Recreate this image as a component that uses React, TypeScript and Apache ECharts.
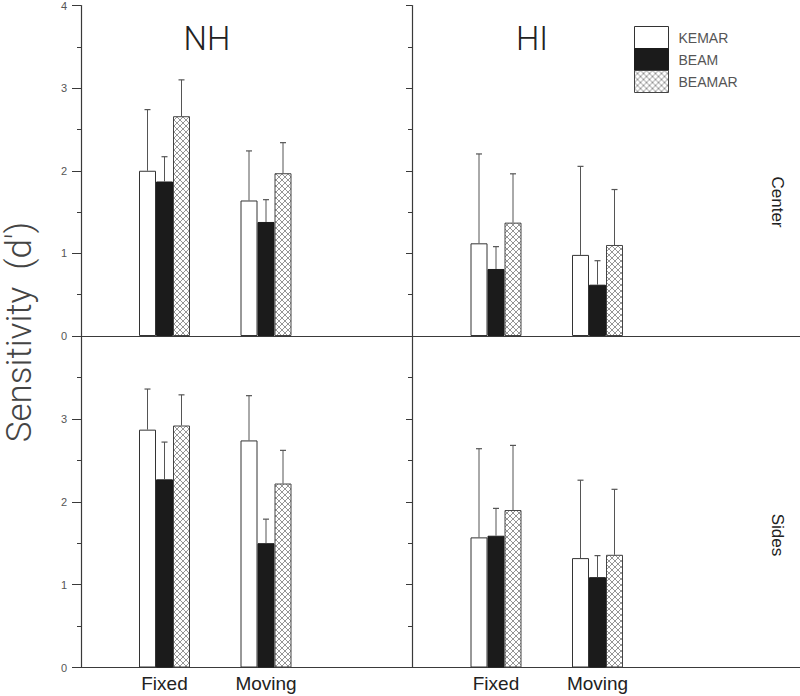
import React, { useEffect, useRef } from "react";
import * as echarts from "echarts";

const conditions = ["Fixed", "Moving"];
const methods = ["KEMAR", "BEAM", "BEAMAR"];
const yTicks = [0, 1, 2, 3, 4];

// means per method, per condition [Fixed, Moving]
const nhCenterMean = { KEMAR: [2.0, 1.64], BEAM: [1.87, 1.38], BEAMAR: [2.66, 1.97] };
const nhCenterUpper = { KEMAR: [2.74, 2.24], BEAM: [2.17, 1.65], BEAMAR: [3.1, 2.34] };
const hiCenterMean = { KEMAR: [1.12, 0.98], BEAM: [0.81, 0.62], BEAMAR: [1.37, 1.1] };
const hiCenterUpper = { KEMAR: [2.2, 2.05], BEAM: [1.08, 0.91], BEAMAR: [1.96, 1.77] };
const nhSidesMean = { KEMAR: [2.87, 2.74], BEAM: [2.27, 1.5], BEAMAR: [2.92, 2.22] };
const nhSidesUpper = { KEMAR: [3.36, 3.28], BEAM: [2.72, 1.79], BEAMAR: [3.29, 2.62] };
const hiSidesMean = { KEMAR: [1.57, 1.32], BEAM: [1.59, 1.09], BEAMAR: [1.9, 1.36] };
const hiSidesUpper = { KEMAR: [2.64, 2.26], BEAM: [1.92, 1.35], BEAMAR: [2.68, 2.15] };

const panels = [
  { mean: nhCenterMean, upper: nhCenterUpper, col: 0, row: 0 },
  { mean: hiCenterMean, upper: hiCenterUpper, col: 1, row: 0 },
  { mean: nhSidesMean, upper: nhSidesUpper, col: 0, row: 1 },
  { mean: hiSidesMean, upper: hiSidesUpper, col: 1, row: 1 },
];

function makeHatch() {
  const c = document.createElement("canvas");
  c.width = 6;
  c.height = 6;
  const ctx = c.getContext("2d")!;
  ctx.fillStyle = "#ffffff";
  ctx.fillRect(0, 0, 6, 6);
  ctx.strokeStyle = "#7a7a7a";
  ctx.lineWidth = 0.8;
  ctx.beginPath();
  ctx.moveTo(0, 0);
  ctx.lineTo(6, 6);
  ctx.moveTo(6, 0);
  ctx.lineTo(0, 6);
  ctx.stroke();
  return c;
}

export default function App() {
  const ref = useRef<HTMLDivElement>(null);
  useEffect(() => {
    const chart = echarts.init(ref.current!, null, { renderer: "svg" });
    const hatch = { image: makeHatch(), repeat: "repeat", imageWidth: 6, imageHeight: 6 } as any;
    const fills: any = {
      KEMAR: { color: "#ffffff", borderColor: "#333", borderWidth: 1 },
      BEAM: { color: "#1b1b1b", borderColor: "#1b1b1b", borderWidth: 1 },
      BEAMAR: { color: hatch, borderColor: "#444", borderWidth: 1 },
    };

    const axisX = 81;
    const midX = 412;
    const rowTop = [5, 336];
    const rowH = [331, 331.5];
    const band = 101.5;
    const firstCenter = [164.5, 496];
    const axisColor = "#3a3a3a";

    const grid: any[] = [];
    const xAxis: any[] = [];
    const yAxis: any[] = [];
    const series: any[] = [];
    const font = "'Liberation Sans', Arial, sans-serif";
    const lightFont = "Roboto, 'Liberation Sans', sans-serif";

    panels.forEach((p, i) => {
      const left = firstCenter[p.col] - band / 2;
      grid.push({ left, width: band * 2, top: rowTop[p.row], height: rowH[p.row] });
      xAxis.push({
        type: "category",
        gridIndex: i,
        data: conditions,
        axisLine: { show: false },
        axisTick: { show: false },
        axisLabel: {
          show: p.row === 1,
          fontSize: 19,
          color: "#222",
          margin: 6,
          fontFamily: font,
        },
      });
      const yBase: any = {
        type: "value",
        gridIndex: i,
        min: 0,
        max: 4,
        interval: 1,
        splitLine: { show: false },
      };
      if (p.col === 0) {
        yAxis.push({
          ...yBase,
          position: "left",
          offset: left - axisX,
          axisLine: { show: true, lineStyle: { color: axisColor, width: 1.2 } },
          axisTick: { show: true, length: 9, lineStyle: { color: axisColor } },
          minorTick: { show: true, splitNumber: 2, length: 4, lineStyle: { color: axisColor } },
          axisLabel: {
            show: true,
            margin: 14,
            fontSize: 11,
            color: "#555",
            fontFamily: font,
            formatter: (v: number) => (p.row === 1 && v === 4 ? "" : String(yTicks[v])),
          },
        });
        yAxis.push({
          ...yBase,
          position: "right",
          offset: midX - (left + band * 2),
          axisLine: { show: true, lineStyle: { color: axisColor, width: 1.2 } },
          axisTick: { show: true, inside: true, length: 6, lineStyle: { color: axisColor } },
          minorTick: { show: true, splitNumber: 2, length: 4, lineStyle: { color: axisColor } },
          axisLabel: { show: false },
        });
      } else {
        yAxis.push({ ...yBase, show: false });
      }
    });

    const yIndexOf: number[] = [];
    let yi = 0;
    panels.forEach((p) => {
      yIndexOf.push(yi);
      yi += p.col === 0 ? 2 : 1;
    });

    panels.forEach((p, i) => {
      methods.forEach((m) => {
        series.push({
          type: "bar",
          name: m,
          xAxisIndex: i,
          yAxisIndex: yIndexOf[i],
          barWidth: 17,
          barGap: "0%",
          data: (p.mean as any)[m],
          itemStyle: fills[m],
          silent: true,
        });
      });
      const errData: any[] = [];
      methods.forEach((m, si) => {
        conditions.forEach((_, ci) => {
          errData.push([ci, si, (p.mean as any)[m][ci], (p.upper as any)[m][ci]]);
        });
      });
      series.push({
        type: "custom",
        xAxisIndex: i,
        yAxisIndex: yIndexOf[i],
        z: 5,
        silent: true,
        data: errData,
        renderItem: (params: any, api: any) => {
          const ci = api.value(0);
          const si = api.value(1);
          const p0 = api.coord([ci, api.value(2)]);
          const p1 = api.coord([ci, api.value(3)]);
          const x = p0[0] + (si - 1) * 17;
          return {
            type: "group",
            children: [
              {
                type: "line",
                shape: { x1: x, y1: p0[1], x2: x, y2: p1[1] },
                style: { stroke: "#555", lineWidth: 1 },
              },
              {
                type: "line",
                shape: { x1: x - 3, y1: p1[1], x2: x + 3, y2: p1[1] },
                style: { stroke: "#555", lineWidth: 1.2 },
              },
            ],
          };
        },
      });
    });

    // frame rows (horizontal baselines across full width)
    [0, 1].forEach((r) => {
      const gi = grid.length;
      grid.push({ left: axisX, right: 0, top: rowTop[r], height: rowH[r] });
      xAxis.push({
        type: "value",
        gridIndex: gi,
        min: 0,
        max: 1,
        axisLine: { show: true, onZero: false, lineStyle: { color: axisColor, width: 1.2 } },
        axisTick: { show: false },
        axisLabel: { show: false },
        splitLine: { show: false },
      });
      yAxis.push({ type: "value", gridIndex: gi, show: false, min: 0, max: 4 });
    });

    const option: any = {
      animation: false,
      backgroundColor: "#ffffff",
      grid,
      xAxis,
      yAxis,
      series,
      legend: {
        data: methods,
        orient: "vertical",
        left: 634,
        top: 26,
        itemWidth: 34,
        itemHeight: 22,
        itemGap: -1,
        icon: "rect",
        selectedMode: false,
        padding: 0,
        itemStyle: { borderWidth: 1 },
        textStyle: { fontSize: 14, color: "#555", fontFamily: font, lineHeight: 16, padding: [0, 0, 0, 5] },
      },
      graphic: [
        {
          type: "text",
          x: 207,
          y: 38,
          style: {
            text: "NH",
            fontSize: 33,
            fontFamily: lightFont,
            fontWeight: 300,
            fill: "#222",
            align: "center",
            verticalAlign: "middle",
          },
        },
        {
          type: "text",
          x: 532,
          y: 38,
          style: {
            text: "HI",
            fontSize: 33,
            fontFamily: lightFont,
            fontWeight: 300,
            fill: "#222",
            align: "center",
            verticalAlign: "middle",
          },
        },
        {
          type: "text",
          x: 777,
          y: 202,
          rotation: -Math.PI / 2,
          style: {
            text: "Center",
            fontSize: 17,
            fontFamily: font,
            fill: "#222",
            align: "center",
            verticalAlign: "middle",
          },
        },
        {
          type: "text",
          x: 777,
          y: 535,
          rotation: -Math.PI / 2,
          style: {
            text: "Sides",
            fontSize: 17,
            fontFamily: font,
            fill: "#222",
            align: "center",
            verticalAlign: "middle",
          },
        },
        {
          type: "text",
          x: 19,
          y: 332,
          rotation: Math.PI / 2,
          style: {
            text: "Sensitivity  (d\u2032)",
            fontSize: 35,
            fontFamily: lightFont,
            fontWeight: 300,
            fill: "#444",
            align: "center",
            verticalAlign: "middle",
          },
        },
      ],
    };
    chart.setOption(option);
    return () => chart.dispose();
  }, []);
  return (
    <div
      ref={ref}
      style={{ position: "fixed", left: 0, top: 0, width: 800, height: 696, background: "#fff" }}
    />
  );
}
